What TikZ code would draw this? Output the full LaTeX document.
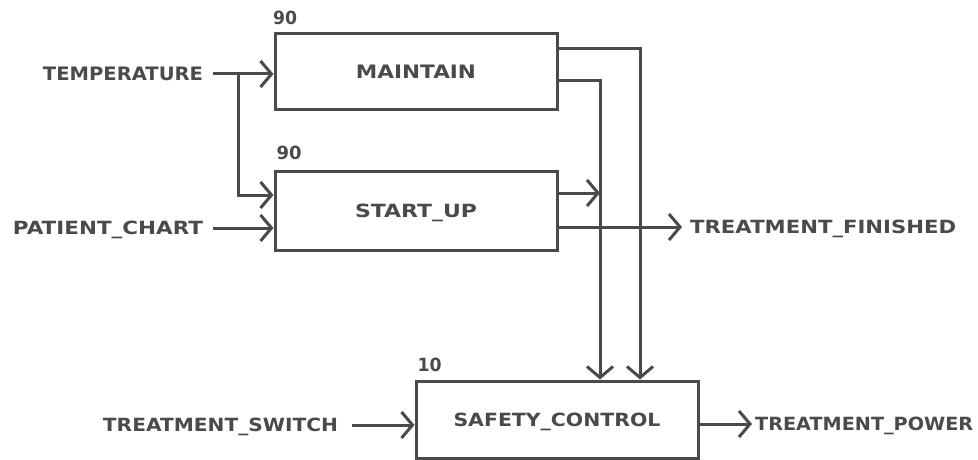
\documentclass[tikz,border=0pt]{standalone}
\usepackage{fontspec}
\usepackage{graphicx}
\usetikzlibrary{arrows.meta}
\newfontfamily\lblfont{DejaVu Sans}
\definecolor{ink}{RGB}{74,74,74}
\newcommand{\lbl}[2]{\resizebox{#1}{13.5pt}{\fontsize{18}{18}\selectfont\lblfont\bfseries #2}}
\tikzset{
  every node/.style={text=ink},
  procbox/.style={draw=ink, line width=3pt, rectangle, minimum width=282pt, inner sep=0pt, text depth=0pt},
  lbltext/.style={inner sep=0pt, text depth=0pt},
  flow/.style={draw=ink, line width=3pt, -{Straight Barb[length=11pt,width=26pt]}},
}
\begin{document}
\begin{tikzpicture}[x=1pt,y=-1pt]
\useasboundingbox (0,0) rectangle (978,460);
% boxes
\node[procbox, minimum height=76pt] (maint) at (416,72) {\lbl{120pt}{MAINTAIN}};
\node[procbox, minimum height=79pt] (start) at (416,211) {\lbl{122pt}{START\_UP}};
\node[procbox, minimum height=77pt] (safety) at (557,419.5) {\lbl{207pt}{SAFETY\_CONTROL}};
% numbers
\node[lbltext] (n1) at (285,18) {\lbl{24pt}{90}};
\node[lbltext] (n2) at (289,153) {\lbl{25pt}{90}};
\node[lbltext] (n3) at (429.5,365) {\lbl{24pt}{10}};
% external labels
\node[lbltext] (tlab) at (123,74) {\lbl{160pt}{TEMPERATURE}};
\node[lbltext] (pclab) at (108,228) {\lbl{190pt}{PATIENT\_CHART}};
\node[lbltext] (tslab) at (220.5,425) {\lbl{235pt}{TREATMENT\_SWITCH}};
\node[lbltext, anchor=west] (tflab) at (690,227) {\lbl{266pt}{TREATMENT\_FINISHED}};
\node[lbltext, anchor=west] (tplab) at (755,424) {\lbl{218pt}{TREATMENT\_POWER}};
% helper coordinates
\coordinate (br) at (238,74);
\coordinate (m1) at ([yshift=23pt]maint.east);
\coordinate (m2) at ([yshift=-9pt]maint.east);
\coordinate (s1) at ([yshift=18pt]start.east);
\coordinate (s2) at ([yshift=-16pt]start.east);
\coordinate (v1) at ([xshift=43pt]safety.north);
\coordinate (v2) at ([xshift=83pt]safety.north);
% inputs
\draw[flow] ([xshift=10pt]tlab.east) -- (maint.west |- tlab);
\draw[flow] (br) |- ([yshift=16pt]start.west);
\draw[flow] ([xshift=10pt]pclab.east) -- (start.west |- pclab);
\draw[flow] ([xshift=14pt]tslab.east) -- (safety.west |- tslab);
% outputs
\draw[flow] (m1) -| (v2);
\draw[flow] (m2) -| (v1);
\draw[flow] (s1) -- (s1 -| v1);
\draw[flow] (s2) -- ([xshift=-8pt]tflab.west |- s2);
\draw[flow] (safety.east |- tplab) -- ([xshift=-3pt]tplab.west);
\end{tikzpicture}
\end{document}
